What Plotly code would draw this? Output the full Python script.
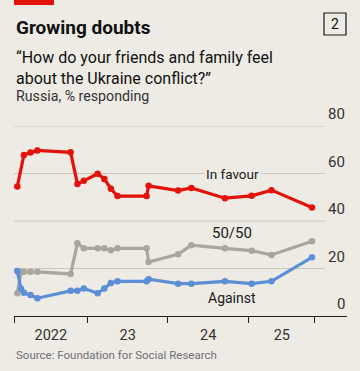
import plotly.graph_objects as go

dates = ["2022-02-16", "2022-03-05", "2022-03-18", "2022-04-17", "2022-05-18",
         "2022-10-16", "2022-11-16", "2022-12-15", "2023-02-16", "2023-03-18",
         "2023-04-17", "2023-05-17", "2023-09-26", "2023-10-05", "2024-02-16",
         "2024-04-16", "2024-09-16", "2025-01-15", "2025-04-15", "2025-10-16"]
in_favour = [54.5, None, 67.8, 68.8, 69.7, 68.9, 55.6, 56.9, 59.9, 57.7,
             53.6, 50.5, 50.5, 54.8, 52.8, 53.9, 49.6, 50.6, 53.0, 45.7]
fifty_fifty = [9.6, 18.4, 18.6, 18.6, 18.6, 17.7, 30.6, 28.5, 28.5, 28.5,
               27.7, 28.5, 28.5, 22.7, 26.0, 29.8, 28.5, 27.5, 25.7, 31.5]
against = [18.9, 11.5, 9.8, 8.8, 7.5, 10.6, 10.6, 11.6, 9.6, 11.6,
           13.9, 14.6, 14.6, 15.5, 13.6, 13.6, 14.6, 13.6, 14.6, 24.7]

year_labels = ["2022", "23", "24", "25"]
label_pos = ["2022-07-18", "2023-07-02", "2024-07-02", "2025-06-01"]
tick_marks = ["2022-02-01", "2023-01-01", "2024-01-01", "2025-01-01", "2025-10-29"]
y_ticks = [0, 20, 40, 60, 80]

BG = "#EDEBE4"
FONT = "Roboto, sans-serif"
RED = "#E3120B"
BLUE = "#5B8FD6"
GREY = "#A8A69F"

PH = 190.0  # plot height in px
PW = 333.0  # plot width in px


def py(pix):
    # paper y coordinate for a pixel row measured from the top of the figure
    return 1 + (126 - pix) / PH


fig = go.Figure()
for vals, col in [(fifty_fifty, GREY), (against, BLUE), (in_favour, RED)]:
    fig.add_trace(go.Scatter(x=dates, y=vals, mode="lines+markers",
                             connectgaps=True,
                             line=dict(color=col, width=3.2),
                             marker=dict(color=col, size=6.5),
                             hoverinfo="skip", showlegend=False))

shapes = []
for v in y_ticks[1:]:
    shapes.append(dict(type="line", xref="paper", yref="y", x0=0, x1=311 / PW,
                       y0=v, y1=v, line=dict(color="#C9C7BF", width=1), layer="below"))
shapes.append(dict(type="rect", xref="paper", yref="paper", x0=0, x1=40 / PW,
                   y0=py(5), y1=py(0), fillcolor=RED, line_width=0))
shapes.append(dict(type="rect", xref="paper", yref="paper", x0=310 / PW, x1=332 / PW,
                   y0=py(35), y1=py(13), line=dict(color="#1a1a1a", width=1.2),
                   fillcolor="rgba(0,0,0,0)"))

ann = []
for v in y_ticks:
    ann.append(dict(x=1, xref="paper", y=v, yref="y", text=str(v), showarrow=False,
                    xanchor="right", yanchor="bottom", yshift=1,
                    font=dict(family=FONT, size=15, color="#333333")))
ann += [
    dict(x="2024-10-20", y=59.8, text="In favour", showarrow=False, bgcolor=BG,
         font=dict(family=FONT, size=13.5, color="#1a1a1a"), borderpad=1),
    dict(x="2024-10-20", y=35.0, text="50/50", showarrow=False,
         font=dict(family=FONT, size=15, color="#1a1a1a")),
    dict(x="2024-10-20", y=7.6, text="Against", showarrow=False,
         font=dict(family=FONT, size=14, color="#1a1a1a")),
    dict(x=0, xref="paper", y=py(28), yref="paper", text="<b>Growing doubts</b>",
         showarrow=False, xanchor="left", yanchor="middle",
         font=dict(family=FONT, size=19, color="#111111")),
    dict(x=321 / PW, xref="paper", y=py(24), yref="paper", text="2",
         showarrow=False, xanchor="center", yanchor="middle",
         font=dict(family=FONT, size=14, color="#111111")),
    dict(x=0, xref="paper", y=py(67.5), yref="paper",
         text="“How do your friends and family feel<br>about the Ukraine conflict?”",
         showarrow=False, xanchor="left", yanchor="middle", align="left",
         font=dict(family=FONT, size=16, color="#111111")),
    dict(x=0, xref="paper", y=py(96), yref="paper", text="Russia, % responding",
         showarrow=False, xanchor="left", yanchor="middle",
         font=dict(family=FONT, size=14.2, color="#333333")),
    dict(x=0, xref="paper", y=py(355), yref="paper",
         text="Source: Foundation for Social Research",
         showarrow=False, xanchor="left", yanchor="middle",
         font=dict(family=FONT, size=11.5, color="#707070")),
]

fig.update_layout(
    width=360, height=371,
    margin=dict(l=14, r=13, t=126, b=55),
    paper_bgcolor=BG, plot_bgcolor=BG,
    shapes=shapes, annotations=ann,
    xaxis=dict(type="date", range=["2022-02-01", "2026-03-24"],
               tickmode="array", tickvals=label_pos, ticktext=year_labels,
               ticks="", showgrid=False, zeroline=False,
               showline=True, linecolor="#222222", linewidth=1.2,
               ticklabelstandoff=5,
               tickfont=dict(family=FONT, size=14.5, color="#333333"),
               minor=dict(tickmode="array", tickvals=tick_marks, ticks="outside",
                          ticklen=6, tickcolor="#222222", tickwidth=1.2, showgrid=False)),
    yaxis=dict(range=[0, 80], showgrid=False, zeroline=False, showticklabels=False,
               fixedrange=True),
)

fig.write_html("out.html",
               config={"displayModeBar": False},
               post_script="document.body.style.margin='0px';"
                           "document.body.style.background='" + BG + "';")
